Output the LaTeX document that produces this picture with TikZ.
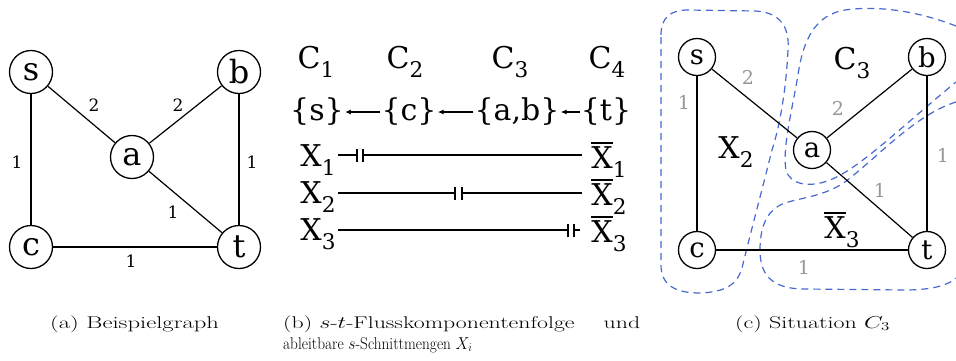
\documentclass[tikz,border=0pt]{standalone}
\usepackage{fontspec}
\usepackage{graphicx}
\newfontfamily\dv{DejaVu Serif}
\usetikzlibrary{arrows.meta}
\definecolor{wgray}{RGB}{150,150,150}
\definecolor{cutblue}{RGB}{70,105,210}
\newcommand\sbs[1]{\raisebox{-0.3em}{\scalebox{0.72}{#1}}}
\newcommand\xbar{\begingroup\setbox0\hbox{X}\rlap{\raisebox{0.84em}{\rule{\wd0}{0.055em}}}\box0\endgroup}
\begin{document}
\begin{tikzpicture}[x=1pt,y=-1pt,
 vtx/.style={circle,draw,line width=1.3pt,minimum size=43pt,inner sep=0pt,font=\dv\fontsize{32}{32}\selectfont},
 vtxc/.style={vtx,minimum size=37pt,font=\dv\fontsize{27.5}{27.5}\selectfont},
 edge/.style={line width=1.2pt},
 wa/.style={font=\dv\fontsize{17}{17}\selectfont,inner sep=0pt},
 wc/.style={font=\dv\fontsize{19}{19}\selectfont,inner sep=0pt,text=wgray},
 big/.style={font=\dv\fontsize{30}{30}\selectfont,inner sep=1pt},
 cut/.style={draw=cutblue,line width=1.2pt,dash pattern=on 7pt off 5pt},
 capt/.style={font=\fontsize{17}{20}\selectfont,inner sep=0pt,anchor=base west},
 arr/.style={line width=1.1pt,-{Latex[length=6pt,width=5pt]}},
]
\useasboundingbox (0,0) rectangle (956,360);
% ---------- (a)
\node[vtx] (as) at (31,72) {s};
\node[vtx] (ab) at (239,72) {b};
\node[vtx] (aa) at (132,157) {a};
\node[vtx] (ac) at (31,247) {c};
\node[vtx] (at) at (239,247) {t};
\draw[edge] (as) -- (aa);
\draw[edge] (aa) -- (ab);
\draw[edge] (as) -- (ac);
\draw[edge] (ab) -- (at);
\draw[edge] (aa) -- (at);
\draw[edge] (ac) -- (at);
\node[wa] (la1) at (94,105) {2};
\node[wa] (la2) at (178,105) {2};
\node[wa] (la3) at (17,162) {1};
\node[wa] (la4) at (252,162) {1};
\node[wa] (la5) at (173,212) {1};
\node[wa] (la6) at (131,261) {1};
% ---------- (b)
\node[big] (c1) at (316,62) {C\sbs{1}};
\node[big] (c2) at (405,62) {C\sbs{2}};
\node[big] (c3) at (510,62) {C\sbs{3}};
\node[big] (c4) at (607,62) {C\sbs{4}};
\node[big] (k1) at (317,112) {\{s\}};
\node[big] (k2) at (409,112) {\{c\}};
\node[big] (k3) at (517,112) {\{a,b\}};
\node[big] (k4) at (606,112) {\{t\}};
\draw[arr] (k2) -- (k1);
\draw[arr] (k3) -- (k2);
\draw[arr] (k4) -- (k3);
\node[big] (x1) at (318,160) {X\sbs{1}};
\node[big] (x2) at (318,197) {X\sbs{2}};
\node[big] (x3) at (318,234) {X\sbs{3}};
\node[big] (y1) at (609,160) {\xbar\sbs{1}};
\node[big] (y2) at (609,197) {\xbar\sbs{2}};
\node[big] (y3) at (609,234) {\xbar\sbs{3}};
\coordinate (p1a) at (338,155); \coordinate (p1b) at (357,155);
\coordinate (p1c) at (363,155); \coordinate (p1d) at (582,155);
\coordinate (p2a) at (338,193); \coordinate (p2b) at (455,193);
\coordinate (p2c) at (462,193); \coordinate (p2d) at (582,193);
\coordinate (p3a) at (338,230); \coordinate (p3b) at (568,230);
\coordinate (p3c) at (574,230); \coordinate (p3d) at (580,230);
\foreach \i in {1,2,3}{
  \draw[edge] (p\i a) -- (p\i b);
  \draw[edge] (p\i c) -- (p\i d);
  \draw[edge] ([yshift=-6.5pt]p\i b) -- ([yshift=6.5pt]p\i b);
  \draw[edge] ([yshift=-6.5pt]p\i c) -- ([yshift=6.5pt]p\i c);
}
% ---------- (c)
\draw[cut] (661,35) .. controls (661,18) and (670,10) .. (688,10) -- (755,11)
  .. controls (778,12) and (790,25) .. (788,50)
  .. controls (786,90) and (780,125) .. (772,150)
  .. controls (762,190) and (750,235) .. (742,268)
  .. controls (737,285) and (725,292) .. (700,293)
  .. controls (675,293) and (661,285) .. (661,265) -- cycle;
\draw[cut] (956,26) .. controls (920,12) and (880,5) .. (845,10)
  .. controls (815,15) and (803,40) .. (798,75)
  .. controls (792,110) and (782,150) .. (786,170)
  .. controls (790,185) and (810,188) .. (830,180)
  .. controls (860,168) and (900,128) .. (956,82);
\draw[cut] (956,102) .. controls (915,115) and (880,155) .. (845,182)
  .. controls (825,196) and (800,198) .. (785,203)
  .. controls (765,210) and (760,230) .. (760,250)
  .. controls (760,278) and (775,289) .. (805,289) -- (905,290)
  .. controls (935,290) and (950,284) .. (956,278);
\node[vtxc] (cs) at (697,57) {s};
\node[vtxc] (cb) at (927,57) {b};
\node[vtxc] (ca) at (812,150) {a};
\node[vtxc] (cc) at (697,250) {c};
\node[vtxc] (ct) at (927,250) {t};
\draw[edge] (cs) -- (ca);
\draw[edge] (ca) -- (cb);
\draw[edge] (cs) -- (cc);
\draw[edge] (cb) -- (ct);
\draw[edge] (ca) -- (ct);
\draw[edge] (cc) -- (ct);
\node[wc] (lc1) at (748,77) {2};
\node[wc] (lc2) at (838,108) {2};
\node[wc] (lc3) at (684,102) {1};
\node[wc] (lc4) at (943,155) {1};
\node[wc] (lc5) at (880,190) {1};
\node[wc] (lc6) at (804,267) {1};
\node[big] (tx2) at (736,152) {X\sbs{2}};
\node[big] (tc3) at (852,63) {C\sbs{3}};
\node[big] (tx3) at (842,230) {\xbar\sbs{3}};
% ---------- captions
\node[capt] (capa) at (50,328) {\scalebox{1.45}[1]{(a) Beispielgraph}};
\node[capt] (capb) at (283,328) {\hbox to 357pt{\scalebox{1.4}[1]{(b) $s$-$t$-Flusskomponentenfolge}\hfill\scalebox{1.4}[1]{und}}};
\node[capt] (capb2) at (283,349) {\scalebox{0.9}[1]{ableitbare $s$-Schnittmengen $X_i$}};
\node[capt] (capc) at (735,328) {\scalebox{1.41}[1]{(c) Situation $C_3$}};
\end{tikzpicture}
\end{document}
